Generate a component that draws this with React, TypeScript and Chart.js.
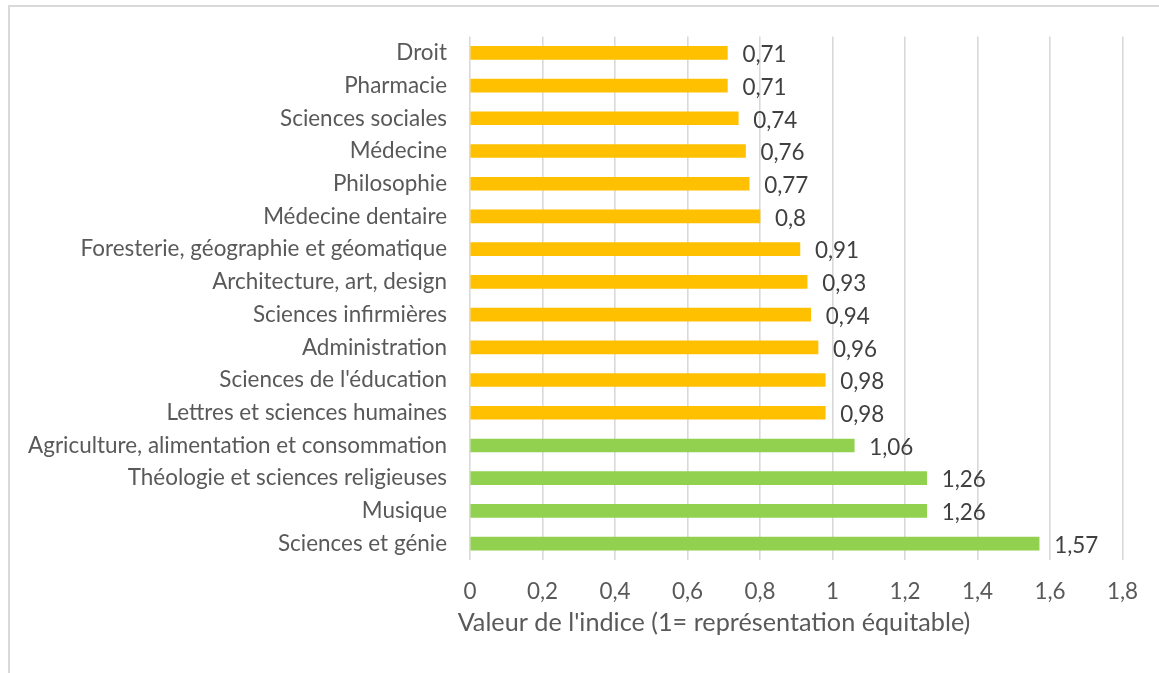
import React, { useEffect, useRef } from 'react';
import { Chart, registerables } from 'chart.js';

Chart.register(...registerables);

const categories = [
  'Droit',
  'Pharmacie',
  'Sciences sociales',
  'Médecine',
  'Philosophie',
  'Médecine dentaire',
  'Foresterie, géographie et géomatique',
  'Architecture, art, design',
  'Sciences infirmières',
  'Administration',
  "Sciences de l'éducation",
  'Lettres et sciences humaines',
  'Agriculture, alimentation et consommation',
  'Théologie et sciences religieuses',
  'Musique',
  'Sciences et génie',
];

const values = [0.71, 0.71, 0.74, 0.76, 0.77, 0.8, 0.91, 0.93, 0.94, 0.96, 0.98, 0.98, 1.06, 1.26, 1.26, 1.57];

const YELLOW = '#FFC000';
const GREEN = '#92D050';
const barColors = [
  YELLOW, YELLOW, YELLOW, YELLOW, YELLOW, YELLOW, YELLOW, YELLOW,
  YELLOW, YELLOW, YELLOW, YELLOW, GREEN, GREEN, GREEN, GREEN,
];

const xMin = 0;
const xMax = 1.8;
const xStep = 0.2;

const axisTitle = "Valeur de l'indice (1= représentation équitable)";

const FONT = 'Lato';

const fmt = (v: number) => {
  const r = Math.round(v * 100) / 100;
  return String(r).replace('.', ',');
};

function fitSize(text: string, target: number) {
  const c = document.createElement('canvas').getContext('2d')!;
  c.font = `100px ${FONT}`;
  const w = c.measureText(text).width;
  return (100 * target) / w;
}

export default function App() {
  const ref = useRef<HTMLCanvasElement | null>(null);

  useEffect(() => {
    if (!ref.current) return;
    const labelSize = fitSize('Agriculture, alimentation et consommation', 419);
    const titleSize = fitSize(axisTitle, 513);

    const overlay = {
      id: 'overlay',
      beforeDraw(chart: any) {
        const ctx = chart.ctx;
        ctx.save();
        ctx.strokeStyle = '#d9d9d9';
        ctx.lineWidth = 2;
        ctx.strokeRect(9, 6, 1300, 800);
        ctx.restore();
      },
      afterDatasetsDraw(chart: any) {
        const ctx = chart.ctx;
        const meta = chart.getDatasetMeta(0);
        ctx.save();
        ctx.fillStyle = '#404040';
        ctx.font = `${labelSize}px ${FONT}`;
        ctx.textAlign = 'left';
        ctx.textBaseline = 'middle';
        meta.data.forEach((bar: any, i: number) => {
          ctx.fillText(fmt(values[i]), bar.x + 15, bar.y + 2);
        });
        ctx.fillStyle = '#595959';
        ctx.font = `${titleSize}px ${FONT}`;
        ctx.textAlign = 'center';
        ctx.fillText(axisTitle, 714, 623);
        ctx.restore();
      },
    };

    const chart = new Chart(ref.current, {
      type: 'bar',
      data: {
        labels: categories,
        datasets: [
          {
            data: values,
            backgroundColor: barColors,
            borderWidth: 0,
            barThickness: 13,
          },
        ],
      },
      options: {
        indexAxis: 'y',
        animation: false,
        responsive: false,
        layout: { padding: { left: 0, top: 35, right: 36.5, bottom: 0 } },
        plugins: {
          legend: { display: false },
          tooltip: { enabled: false },
        },
        scales: {
          x: {
            min: xMin,
            max: xMax,
            border: { display: false },
            grid: { color: '#d9d9d9', lineWidth: 1.6, drawTicks: false, tickLength: 0 },
            ticks: {
              stepSize: xStep,
              padding: 18,
              color: '#595959',
              font: { family: FONT, size: labelSize },
              maxRotation: 0,
              callback: (v: any) => fmt(Number(v)),
            },
            afterFit: (s: any) => {
              s.height = 113;
            },
          },
          y: {
            border: { display: false },
            grid: { display: false, drawTicks: false, tickLength: 0 },
            ticks: {
              padding: 23,
              color: '#595959',
              font: { family: FONT, size: labelSize },
              autoSkip: false,
            },
            afterFit: (s: any) => {
              s.width = 470;
            },
          },
        },
      },
      plugins: [overlay],
    });
    return () => chart.destroy();
  }, []);

  return (
    <div style={{ position: 'absolute', left: 0, top: 0, width: 1159, height: 673, background: '#fff' }}>
      <canvas ref={ref} width={1159} height={673} style={{ display: 'block' }} />
    </div>
  );
}
